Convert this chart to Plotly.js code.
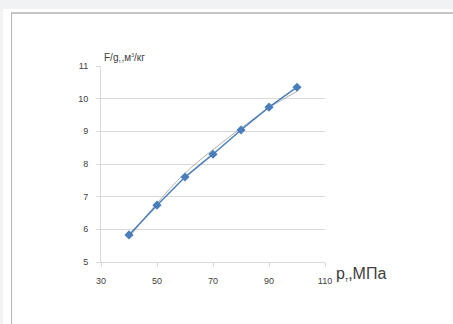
<!DOCTYPE html>
<html><head><meta charset="utf-8">
<script src="https://cdn.plot.ly/plotly-3.0.1.min.js"></script>
<style>
html,body{margin:0;padding:0;background:#f1f2f4;width:453px;height:324px;overflow:hidden}
#bg{position:absolute;left:3px;top:9px;right:0;bottom:0;background:#fff}
#frame{position:absolute;left:11px;top:12px;right:0;bottom:0;border-left:1px solid #b4b4b4;border-top:2px solid #c4c4c4}
#chart{position:absolute;left:0;top:0;width:453px;height:324px}
</style></head>
<body>
<div id="bg"></div><div id="frame"></div>
<div id="chart"></div>
<script>
const pressure = [40, 50, 60, 70, 80, 90, 100];
const ratio = [5.83, 6.74, 7.6, 8.3, 9.04, 9.74, 10.35];
const trend = [5.75, 6.8, 7.72, 8.44, 9.1, 9.72, 10.22];
const yTicks = [5, 6, 7, 8, 9, 10, 11];
const xTicks = [30, 50, 70, 90, 110];

const traces = [
  {x: pressure, y: trend, mode: 'lines', line: {color: '#b0b0b0', width: 1, shape: 'spline'}, hoverinfo: 'skip'},
  {x: pressure, y: ratio, mode: 'lines+markers', line: {color: '#4a7ebb', width: 1.5},
   marker: {symbol: 'diamond', size: 7, color: '#4a7ebb'}}
];
const layout = {
  width: 453, height: 324,
  margin: {l: 101, r: 128, t: 66, b: 62},
  paper_bgcolor: 'rgba(0,0,0,0)', plot_bgcolor: 'rgba(0,0,0,0)',
  showlegend: false,
  font: {family: 'Liberation Sans, Arial, sans-serif', size: 9, color: '#404040'},
  xaxis: {range: [30, 110], tickvals: xTicks, ticktext: xTicks.map(String), showgrid: false,
    showline: true, linecolor: '#d9d9d9', linewidth: 1, ticks: 'outside', ticklen: 4, tickcolor: '#d9d9d9',
    zeroline: false, ticklabelstandoff: 6, fixedrange: true},
  yaxis: {range: [5, 11], tickvals: yTicks, ticktext: yTicks.map(String), showgrid: true, gridcolor: '#d9d9d9',
    showline: true, linecolor: '#d9d9d9', linewidth: 1, ticks: 'outside', ticklen: 4, tickcolor: '#d9d9d9',
    zeroline: false, ticklabelstandoff: 6, fixedrange: true},
  annotations: [
    {xref: 'x', yref: 'paper', x: 110, y: 0, xanchor: 'left', yanchor: 'middle', xshift: 9, yshift: -12,
     text: 'p<sub><span style="font-size:7px">т</span></sub>,МПа', showarrow: false, font: {size: 16, color: '#404040'}},
    {xref: 'paper', yref: 'paper', x: 0, y: 1, xanchor: 'left', yanchor: 'bottom', xshift: 1, yshift: 0,
     text: 'F/g<sub><span style="font-size:5px">т.</span></sub>,м<sup><span style="font-size:5px">3</span></sup>/кг', showarrow: false, font: {size: 10, color: '#404040'}}
  ]
};
Plotly.newPlot('chart', traces, layout, {displayModeBar: false, staticPlot: true});
</script>
</body></html>
